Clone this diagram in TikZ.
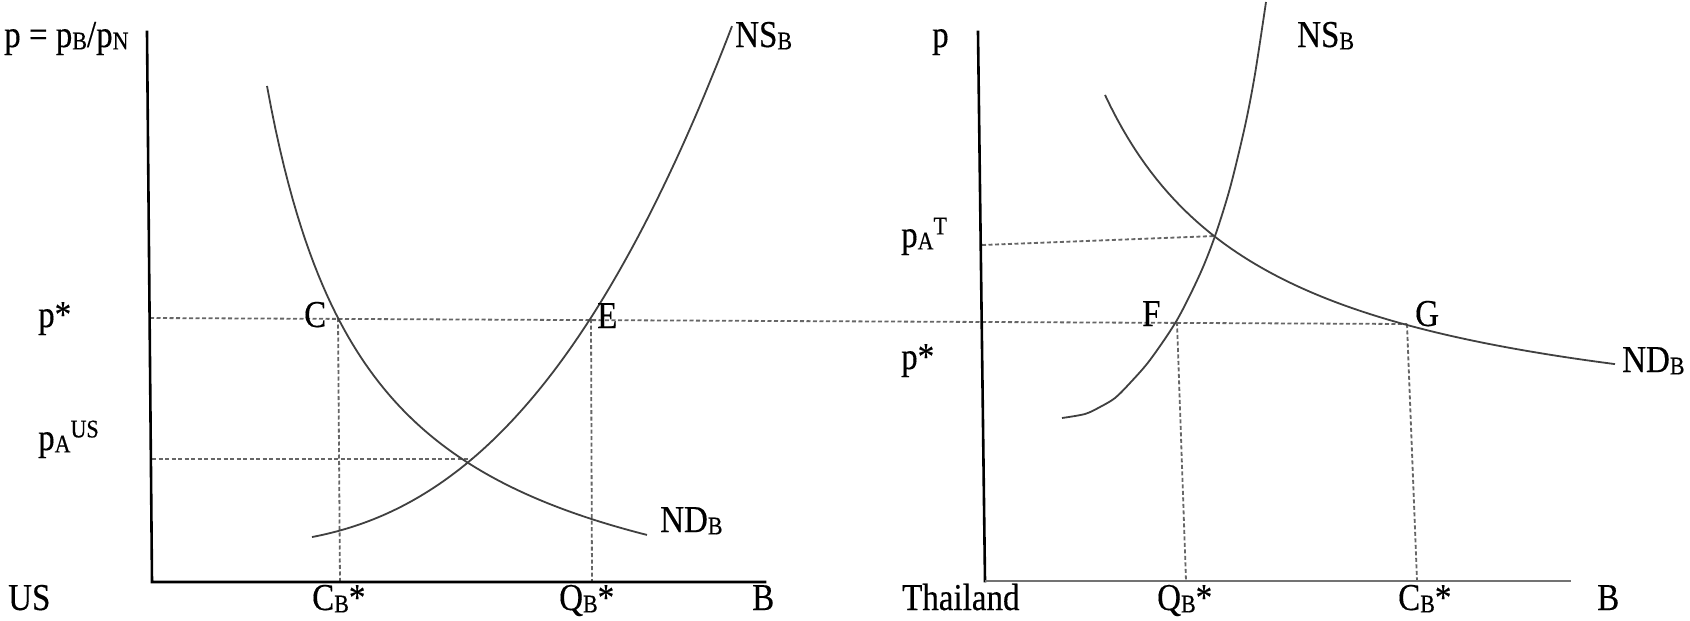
\documentclass[tikz,border=0pt]{standalone}
\usepackage{fontspec}
\setmainfont{Liberation Serif}[FakeBold=0.4]
\newfontfamily\lblfont{Liberation Serif}[FakeBold=0.4]
\newcommand\lbl[1]{\scalebox{1}[1.15]{#1}}
\newcommand\dn[1]{\raisebox{-2pt}{\fontsize{22}{22}\selectfont #1}}
\newcommand\upx[1]{\raisebox{11pt}{\fontsize{22}{22}\selectfont #1}}
\begin{document}
\begin{tikzpicture}[x=1pt,y=-1pt,
  lab/.style={anchor=base west,inner sep=0pt,font=\lblfont\fontsize{33}{36}\selectfont},
  axisline/.style={line width=2.6pt,black,line cap=rect},
  axislight/.style={line width=2.6pt,black!55},
  curve/.style={line width=1.8pt,black!75},
  guide/.style={line width=1.8pt,black!60,dash pattern=on 4pt off 2.5pt},
]
\useasboundingbox[fill=white] (0,0) rectangle (1690,621);

% ---- points
\coordinate (UStop) at (147,32);
\coordinate (USorig) at (152,582);
\coordinate (USend) at (765,582);
\coordinate (THtop) at (978,32);
\coordinate (THorig) at (985,581);
\coordinate (THend) at (1571,581);

\coordinate (pstarL) at (150,318);
\coordinate (C) at (338,318);
\coordinate (Cb) at (340,582);
\coordinate (E) at (591,319);
\coordinate (Eb) at (592,582);
\coordinate (pusL) at (152,459);
\coordinate (pusR) at (472,459);
\coordinate (ptL) at (982,245);
\coordinate (ptR) at (1215,236);
\coordinate (F) at (1177,322);
\coordinate (Fb) at (1186,581);
\coordinate (G) at (1407,324);
\coordinate (Gb) at (1417,581);

% ---- guides
\draw[guide] (pstarL) -- (G);
\draw[guide] (C) -- (Cb);
\draw[guide] (E) -- (Eb);
\draw[guide] (pusL) -- (pusR);
\draw[guide] (ptL) -- (ptR);
\draw[guide] (F) -- (Fb);
\draw[guide] (G) -- (Gb);

% ---- axes
\draw[axisline] (UStop) -- (USorig) -- (USend);
\draw[axisline] (THtop) -- (THorig);
\draw[axislight] (THorig) -- (THend);

% ---- curves, US
\draw[curve] plot[domain=267:647,samples=90] (\x,{657.8-594.7/((\x-163)/100)});
\draw[curve] plot[domain=312:732,samples=90] (\x,{545-86*((\x-200)/272)^2.68});

% ---- curves, Thailand
\draw[curve] plot[domain=1105:1615,samples=90] (\x,{452.4-597.98/((\x-937.7)/100)});
\draw[curve] plot[smooth] coordinates {(1062,418) (1085,414) (1100,407) (1115,398) (1130,383) (1150,360) (1177,320) (1200,274) (1215,236) (1230,188) (1245,126) (1255,74) (1266,2)};

% ---- labels
\node[lab] (lp) at (4,47) {\lbl{p = p\dn{B}/p\dn{N}}};
\node[lab] (lns) at (735,47) {\lbl{NS\dn{B}}};
\node[lab] (lps) at (38,327) {\lbl{p*}};
\node[lab] (lpa) at (38,450) {\lbl{p\dn{A}\upx{US}}};
\node[lab] (lC) at (304,327) {\lbl{C}};
\node[lab] (lE) at (597,328) {\lbl{E}};
\node[lab] (lnd) at (660,532) {\lbl{ND\dn{B}}};
\node[lab] (lus) at (8,610) {\lbl{US}};
\node[lab] (lcb) at (312,610) {\lbl{C\dn{B}*}};
\node[lab] (lqb) at (559,610) {\lbl{Q\dn{B}*}};
\node[lab] (lB) at (752,610) {\lbl{B}};

\node[lab] (rp) at (932,47) {\lbl{p}};
\node[lab] (rns) at (1297,47) {\lbl{NS\dn{B}}};
\node[lab] (rpa) at (901,247) {\lbl{p\dn{A}\upx{T}}};
\node[lab] (rF) at (1142,326) {\lbl{F}};
\node[lab] (rG) at (1415,326) {\lbl{G}};
\node[lab] (rps) at (901,369) {\lbl{p*}};
\node[lab] (rnd) at (1622,372) {\lbl{ND\dn{B}}};
\node[lab] (rth) at (902,610) {\lbl{Thailand}};
\node[lab] (rqb) at (1157,610) {\lbl{Q\dn{B}*}};
\node[lab] (rcb) at (1398,610) {\lbl{C\dn{B}*}};
\node[lab] (rB) at (1597,610) {\lbl{B}};
\end{tikzpicture}
\end{document}
